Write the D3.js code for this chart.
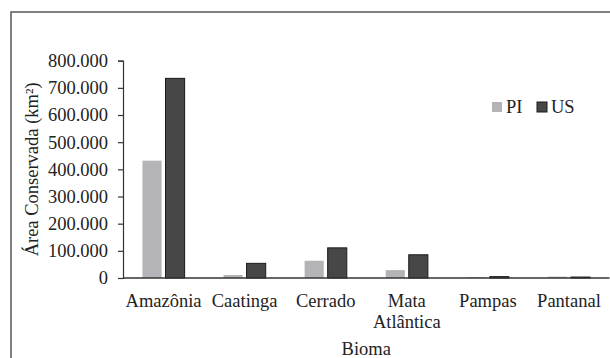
<!DOCTYPE html>
<html>
<head>
<meta charset="utf-8">
<script src="https://cdn.jsdelivr.net/npm/d3@7"></script>
<style>
  body { margin: 0; background: #fff; }
  svg { display: block; font-family: "Liberation Serif", "DejaVu Serif", serif; }
  text { fill: #222; }
</style>
</head>
<body>
<svg id="chart" width="610" height="358"></svg>
<script>
const biomas = ["Amazônia", "Caatinga", "Cerrado", "Mata Atlântica", "Pampas", "Pantanal"]
const series = ["PI", "US"]
const valuesPI = [432000, 11000, 63500, 29000, 2500, 5000]
const valuesUS = [735000, 54000, 111000, 85500, 5000, 3500]
const yTicks = [0, 100000, 200000, 300000, 400000, 500000, 600000, 700000, 800000]
const colors = { PI: "#b4b4b8", US: "#474747" }

const svg = d3.select("#chart")
const fontSize = 18.5

// moldura (só a esquerda e o topo aparecem)
svg.append("rect")
  .attr("x", 11).attr("y", 12)
  .attr("width", 640).attr("height", 400)
  .attr("fill", "none")
  .attr("stroke", "#555")
  .attr("stroke-width", 1.5)

const plot = { left: 123, right: 609.5, top: 60.7, bottom: 278 }

const x0 = d3.scaleBand()
  .domain(biomas)
  .range([plot.left, plot.right])
  .paddingInner(0.48)
  .paddingOuter(0.24)

const x1 = d3.scaleBand()
  .domain(series)
  .range([0, x0.bandwidth()])
  .paddingInner(0.17)

const y = d3.scaleLinear()
  .domain([0, 800000])
  .range([plot.bottom, plot.top])

const ptBR = d3.formatLocale({ decimal: ",", thousands: ".", grouping: [3], currency: ["", ""] })
const fmt = ptBR.format(",")

// barras
let rows = biomas.map((b, i) => ({ bioma: b, PI: valuesPI[i], US: valuesUS[i] }))

let groups = svg.selectAll("g.bioma")
  .data(rows)
  .enter()
  .append("g")
  .attr("class", "bioma")
  .attr("transform", d => `translate(${x0(d.bioma)},0)`)

groups.selectAll("rect")
  .data(d => series.map(s => ({ key: s, value: d[s] })))
  .enter()
  .append("rect")
  .attr("x", d => x1(d.key))
  .attr("y", d => y(d.value))
  .attr("width", x1.bandwidth())
  .attr("height", d => plot.bottom - y(d.value))
  .attr("fill", d => colors[d.key])
  .attr("stroke", d => d.key == "US" ? "#1a1a1a" : "none")
  .attr("stroke-width", 1)

// eixo y
let yAxis = svg.append("g")
  .attr("transform", `translate(${plot.left},0)`)
  .call(d3.axisLeft(y).tickValues(yTicks).tickFormat(fmt).tickSize(5).tickPadding(10))

yAxis.select(".domain").attr("stroke", "#333").attr("stroke-width", 1.2)
yAxis.selectAll(".tick line").attr("stroke", "#333").attr("stroke-width", 1.2)
yAxis.selectAll(".tick text")
  .attr("font-size", fontSize)
  .attr("font-family", "Liberation Serif")
  .attr("fill", "#222")

// eixo x
svg.append("line")
  .attr("x1", plot.left).attr("x2", plot.right)
  .attr("y1", plot.bottom).attr("y2", plot.bottom)
  .attr("stroke", "#333")
  .attr("stroke-width", 1.5)

svg.selectAll("text.cat")
  .data(biomas)
  .enter()
  .append("text")
  .attr("class", "cat")
  .attr("text-anchor", "middle")
  .attr("font-size", fontSize)
  .each(function(d) {
    let lines = d.split(" ")
    let t = d3.select(this)
    lines.forEach((line, i) => {
      t.append("tspan")
        .attr("x", x0(d) + x0.bandwidth() / 2)
        .attr("y", 307 + i * 20.5)
        .text(line)
    })
  })

// títulos
svg.append("text")
  .attr("x", (plot.left + plot.right) / 2)
  .attr("y", 355)
  .attr("text-anchor", "middle")
  .attr("font-size", fontSize)
  .text("Bioma")

svg.append("text")
  .attr("transform", `translate(38,${(plot.top + plot.bottom) / 2}) rotate(-90)`)
  .attr("text-anchor", "middle")
  .attr("font-size", fontSize)
  .text("Área Conservada (km²)")

// legenda
let legend = svg.append("g").attr("transform", "translate(492,102)")
let legendX = [0, 45]
series.forEach((s, i) => {
  legend.append("rect")
    .attr("x", legendX[i]).attr("y", 0)
    .attr("width", 10).attr("height", 10)
    .attr("fill", colors[s])
    .attr("stroke", s == "US" ? "#1a1a1a" : "none")
  legend.append("text")
    .attr("x", legendX[i] + 14)
    .attr("y", 10.5)
    .attr("font-size", fontSize)
    .text(s)
})
</script>
</body>
</html>
